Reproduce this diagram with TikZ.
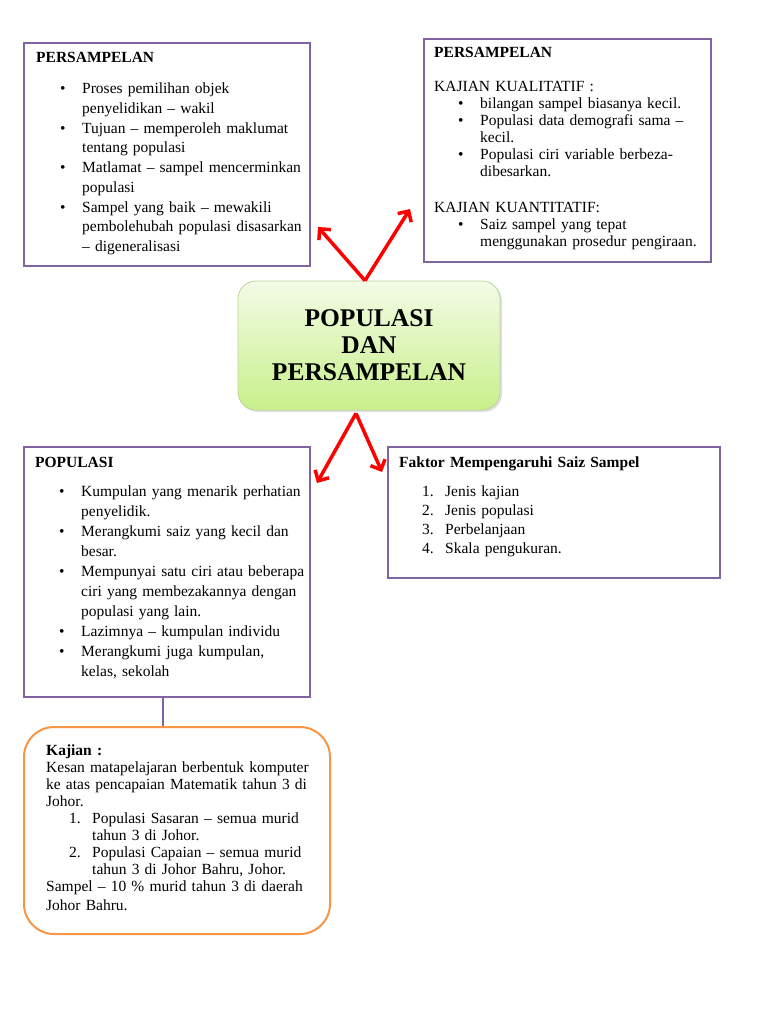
\documentclass[tikz,border=0pt]{standalone}
\usepackage{fontspec}
\setmainfont{Liberation Serif}
\usetikzlibrary{arrows.meta,shadows}

\definecolor{boxpurple}{RGB}{128,100,162}
\definecolor{kajorange}{RGB}{247,150,70}
\definecolor{cenedge}{RGB}{190,212,150}
\definecolor{centop}{RGB}{243,251,230}
\definecolor{cenbottom}{RGB}{200,240,138}

\newcommand{\blt}{\makebox[46pt][l]{\hspace{24pt}\textbullet}}
\newcommand{\hin}{\hspace*{46pt}}
\newcommand{\nmr}[1]{\makebox[46pt][l]{\hspace{23pt}#1}}

\begin{document}
\begin{tikzpicture}
	[   x=1pt,y=-1pt,
	    box/.style={draw=#1,line width=2pt,inner sep=0pt,fill=white},
	    txt/.style={anchor=base west,inner sep=0pt,align=left,text width=#1},
	    cnode/.style={draw=cenedge,line width=0.8pt,rounded corners=18pt,
	        top color=centop,bottom color=cenbottom,
	        minimum width=262pt,minimum height=129pt,align=center,
	        font=\bfseries\fontsize{25.5}{27}\selectfont,
	        drop shadow={opacity=0.25,shadow xshift=2pt,shadow yshift=-2pt}},
	]
	\tikzset{red arrow/.style={draw=red,line width=3.5pt,-{Straight Barb[length=8pt,width=16pt]}}}
	\useasboundingbox (0,0) rectangle (768,1024);
	
	% kotak
	\node[box=boxpurple,minimum width=286pt,minimum height=223pt] (samp1) at (167,154.5) {};
	\node[box=boxpurple,minimum width=287pt,minimum height=223pt] (samp2) at (567.5,150.5) {};
	\node[box=boxpurple,minimum width=286pt,minimum height=250pt] (pop) at (167,572) {};
	\node[box=boxpurple,minimum width=332pt,minimum height=131pt] (fak) at (554,512.5) {};
	\node[box=kajorange,rounded corners=30pt,minimum width=306pt,minimum height=207pt] (kaj) at (177,830.5) {};
	\node[cnode] (cen) at (369,345.5) {POPULASI\\DAN\\PERSAMPELAN};
	
	% teks
	\node[txt=270pt,font=\fontsize{15.5}{19.75}\selectfont] (samp1-t) at (36,63) {\textbf{PERSAMPELAN}\\[11pt]
		\blt Proses pemilihan objek\\
		\hin penyelidikan -- wakil\\
		\blt Tujuan -- memperoleh maklumat\\
		\hin tentang populasi\\
		\blt Matlamat -- sampel mencerminkan\\
		\hin populasi\\
		\blt Sampel yang baik -- mewakili\\
		\hin pembolehubah populasi disasarkan\\
		\hin -- digeneralisasi};
	\node[txt=272pt,font=\fontsize{15.5}{17}\selectfont] (samp2-t) at (434,58) {\textbf{PERSAMPELAN}\\[17pt]
		KAJIAN KUALITATIF :\\
		\blt bilangan sampel biasanya kecil.\\
		\blt Populasi data demografi sama --\\
		\hin kecil.\\
		\blt Populasi ciri variable berbeza-\\
		\hin dibesarkan.\\[19pt]
		KAJIAN KUANTITATIF:\\
		\blt Saiz sampel yang tepat\\
		\hin menggunakan prosedur pengiraan.};
	\node[txt=272pt,font=\fontsize{15.5}{19.9}\selectfont] (pop-t) at (35,467) {\textbf{POPULASI}\\[10pt]
		\blt Kumpulan yang menarik perhatian\\
		\hin penyelidik.\\
		\blt Merangkumi saiz yang kecil dan\\
		\hin besar.\\
		\blt Mempunyai satu ciri atau beberapa\\
		\hin ciri yang membezakannya dengan\\
		\hin populasi yang lain.\\
		\blt Lazimnya -- kumpulan individu\\
		\blt Merangkumi juga kumpulan,\\
		\hin kelas, sekolah};
	\node[txt=315pt,font=\fontsize{15.5}{19}\selectfont] (fak-t) at (399,467) {\textbf{Faktor Mempengaruhi Saiz Sampel}\\[10pt]
		\nmr{1.}Jenis kajian\\
		\nmr{2.}Jenis populasi\\
		\nmr{3.}Perbelanjaan\\
		\nmr{4.}Skala pengukuran.};
	\node[txt=280pt,font=\fontsize{15.5}{17}\selectfont] (kaj-t) at (46,755) {\textbf{Kajian :}\\
		Kesan matapelajaran berbentuk komputer\\
		ke atas pencapaian Matematik tahun 3 di\\
		Johor.\\
		\nmr{1.}Populasi Sasaran -- semua murid\\
		\hin tahun 3 di Johor.\\
		\nmr{2.}Populasi Capaian -- semua murid\\
		\hin tahun 3 di Johor Bahru, Johor.\\
		Sampel -- 10 \% murid tahun 3 di daerah\\[2pt]
		Johor Bahru.};
	
	% anak panah
	\coordinate (tip-1) at (318,227);
	\coordinate (tip-2) at (410,209);
	\coordinate (tip-3) at (317,483);
	\coordinate (tip-4) at (382,472);
	\path[red arrow] ([xshift=-4pt]cen.north) -- (tip-1);
	\path[red arrow] ([xshift=-4pt]cen.north) -- (tip-2);
	\path[red arrow] ([xshift=-13pt,yshift=-3pt]cen.south) -- (tip-3);
	\path[red arrow] ([xshift=-13pt,yshift=-3pt]cen.south) -- (tip-4);
	
	\coordinate (popfoot) at ([xshift=-4pt]pop.south);
	\draw[boxpurple,line width=1.5pt] (popfoot) -- (popfoot |- kaj.north);

\end{tikzpicture}
\end{document}
